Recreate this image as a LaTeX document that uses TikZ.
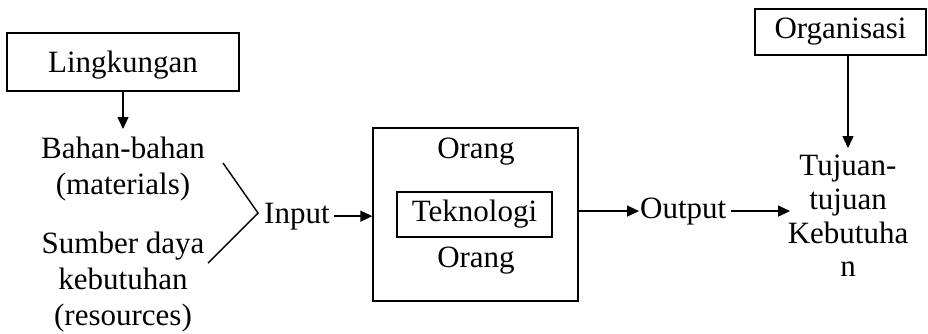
\documentclass[tikz,border=0pt]{standalone}
\usepackage{fontspec}
\setmainfont{Liberation Serif}
\usetikzlibrary{arrows.meta}
\begin{document}
\begin{tikzpicture}[x=1pt,y=-1pt,
  txt/.style={font=\fontsize{31}{36}\selectfont, inner sep=0pt},
  conn/.style={line width=1.4pt},
  arr/.style={conn,-{Triangle[length=12pt,width=11pt]}},
  boxed/.style={draw,line width=1.4pt,inner sep=0pt,font=\fontsize{31}{36}\selectfont}]
\useasboundingbox (0,0) rectangle (928,333);

% left column
\node[boxed,minimum width=232pt,minimum height=58pt,text depth=0pt] (ling) at (123,62) {Lingkungan};
\node[txt,align=center,anchor=north] (bahan) at (123,137) {Bahan-bahan\\(materials)};
\node[txt,align=center,anchor=north] (sumber) at (123,232) {Sumber daya\\kebutuhan\\(resources)};
\draw[arr] (ling.south) -- ([yshift=8pt]bahan.north);

% bracket
\coordinate (bt) at (223,163);
\coordinate (bm) at (258,213);
\coordinate (bb) at (208,263);
\draw[conn] (bt) -- (bm) -- (bb);

\node[txt,anchor=base west] (input) at (264,223) {Input};

% central box
\node[draw,line width=1.4pt,minimum width=205pt,minimum height=173pt] (big) at (475.5,214.5) {};
\node[txt,anchor=base] (orang1) at (476,158) {Orang};
\node[boxed,minimum width=155pt,minimum height=45pt] (tek) at (474.5,214.5) {Teknologi};
\node[txt,anchor=base] (orang2) at (476,267) {Orang};
\draw[arr] ([xshift=4pt]input.east) -- (big.west |- input.east);

% output
\node[txt,anchor=base west] (output) at (640,218) {Output};
\draw[arr] (big.east |- output.west) -- ([xshift=-1pt]output.west);

% right column
\node[boxed,minimum width=171pt,minimum height=46pt] (org) at (840.5,32) {Organisasi};
\node[txt,align=center,anchor=north,font=\fontsize{31}{33.7}\selectfont] (tujuan) at (848,155) {Tujuan-\\tujuan\\Kebutuha\\n};
\draw[arr] ([xshift=4pt]output.east) -- (790,0 |- output.east);
\draw[arr] (org.south -| tujuan.north) -- ([yshift=7pt]tujuan.north);
\end{tikzpicture}
\end{document}
